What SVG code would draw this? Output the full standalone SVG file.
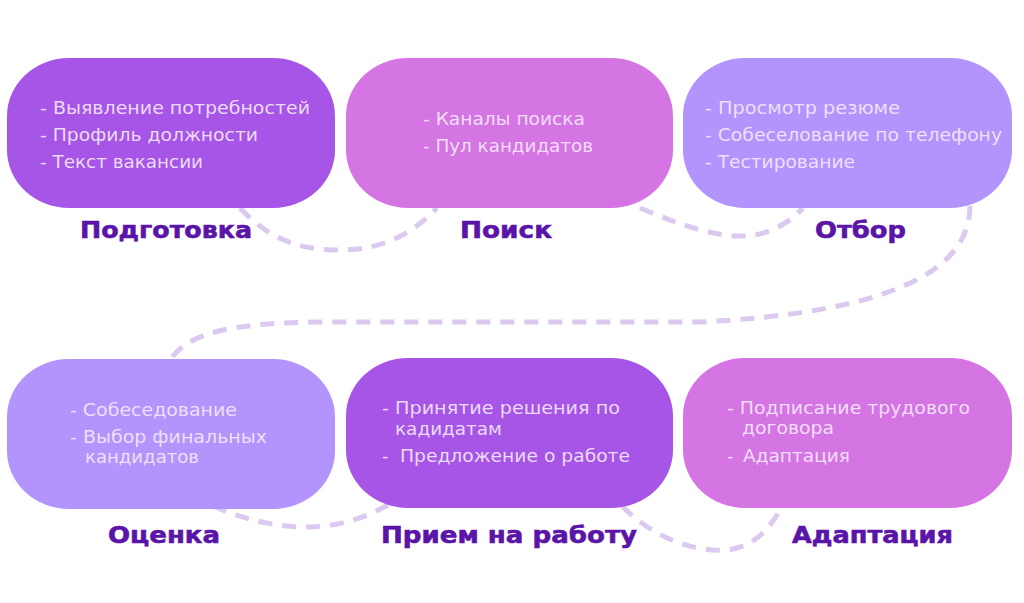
<svg xmlns="http://www.w3.org/2000/svg" width="1024" height="603" viewBox="0 0 1024 603">
  <style>
    .c1 { fill: #A655E6; }
    .c2 { fill: #D575E4; }
    .c3 { fill: #B294FC; }
    .body { font-family: "DejaVu Sans", "Liberation Sans", sans-serif; font-size: 17.5px; fill: #F4E8FB; fill-opacity: 0.92; }
    .label { font-family: "DejaVu Sans", "Liberation Sans", sans-serif; font-size: 23.5px; font-weight: bold; fill: #5A14A8; stroke: #5A14A8; stroke-width: 0.6; }
    .conn { fill: none; stroke: #DCC9EF; stroke-width: 5; stroke-dasharray: 14 10; }
  </style>
  <rect width="1024" height="603" fill="#FFFFFF"/>
  <g id="connectors">
    <path class="conn" d="M240,208 C270,240 300,250 340,250 C380,250 410,236 437,208"/>
    <path class="conn" d="M640,208 C680,225 715,237 745,236 C770,235 790,222 803,208"/>
    <path class="conn" d="M970,206 C970,275 880,313 700,322 L320,322 C230,323 188,333 170,360"/>
    <path class="conn" d="M213,506 C245,520 280,528 310,527 C340,526 365,518 388,505"/>
    <path class="conn" d="M622,506 C650,535 690,552 725,550 C752,548 770,530 782,506"/>
  </g>
  <g id="node-podgotovka">
    <rect class="c1" x="7" y="58" width="328" height="150" rx="62" ry="58"/>
    <text class="body" x="40" y="114" textLength="270" lengthAdjust="spacingAndGlyphs">- Выявление потребностей</text>
    <text class="body" x="40" y="141" textLength="218" lengthAdjust="spacingAndGlyphs">- Профиль должности</text>
    <text class="body" x="40" y="168" textLength="163" lengthAdjust="spacingAndGlyphs">- Текст вакансии</text>
    <text class="label" x="80" y="238" textLength="172" lengthAdjust="spacingAndGlyphs">Подготовка</text>
  </g>
  <g id="node-poisk">
    <rect class="c2" x="346" y="58" width="327" height="150" rx="62" ry="58"/>
    <text class="body" x="423" y="125" textLength="162" lengthAdjust="spacingAndGlyphs">- Каналы поиска</text>
    <text class="body" x="423" y="152" textLength="170" lengthAdjust="spacingAndGlyphs">- Пул кандидатов</text>
    <text class="label" x="460" y="238" textLength="92" lengthAdjust="spacingAndGlyphs">Поиск</text>
  </g>
  <g id="node-otbor">
    <rect class="c3" x="683" y="58" width="329" height="150" rx="62" ry="58"/>
    <text class="body" x="705" y="114" textLength="195" lengthAdjust="spacingAndGlyphs">- Просмотр резюме</text>
    <text class="body" x="705" y="141" textLength="297" lengthAdjust="spacingAndGlyphs">- Собеселование по телефону</text>
    <text class="body" x="705" y="168" textLength="150" lengthAdjust="spacingAndGlyphs">- Тестирование</text>
    <text class="label" x="815" y="238" textLength="91" lengthAdjust="spacingAndGlyphs">Отбор</text>
  </g>
  <g id="node-otsenka">
    <rect class="c3" x="7" y="359" width="328" height="150" rx="62" ry="58"/>
    <text class="body" x="70" y="416" textLength="167" lengthAdjust="spacingAndGlyphs">- Собеседование</text>
    <text class="body" x="70" y="443" textLength="197" lengthAdjust="spacingAndGlyphs">- Выбор финальных</text>
    <text class="body" x="85" y="463" textLength="114" lengthAdjust="spacingAndGlyphs">кандидатов</text>
    <text class="label" x="108" y="543" textLength="112" lengthAdjust="spacingAndGlyphs">Оценка</text>
  </g>
  <g id="node-priem">
    <rect class="c1" x="346" y="358" width="327" height="150" rx="62" ry="58"/>
    <text class="body" x="382" y="414" textLength="238" lengthAdjust="spacingAndGlyphs">- Принятие решения по</text>
    <text class="body" x="395" y="435" textLength="107" lengthAdjust="spacingAndGlyphs">кадидатам</text>
    <text class="body" x="382" y="462">-</text>
    <text class="body" x="400" y="462" textLength="230" lengthAdjust="spacingAndGlyphs">Предложение о работе</text>
    <text class="label" x="381" y="543" textLength="256" lengthAdjust="spacingAndGlyphs">Прием на работу</text>
  </g>
  <g id="node-adaptatsiya">
    <rect class="c2" x="683" y="358" width="329" height="150" rx="62" ry="58"/>
    <text class="body" x="727" y="414" textLength="243" lengthAdjust="spacingAndGlyphs">- Подписание трудового</text>
    <text class="body" x="742" y="434" textLength="92" lengthAdjust="spacingAndGlyphs">договора</text>
    <text class="body" x="727" y="462">-</text>
    <text class="body" x="743" y="462" textLength="107" lengthAdjust="spacingAndGlyphs">Адаптация</text>
    <text class="label" x="792" y="543" textLength="161" lengthAdjust="spacingAndGlyphs">Адаптация</text>
  </g>
</svg>
